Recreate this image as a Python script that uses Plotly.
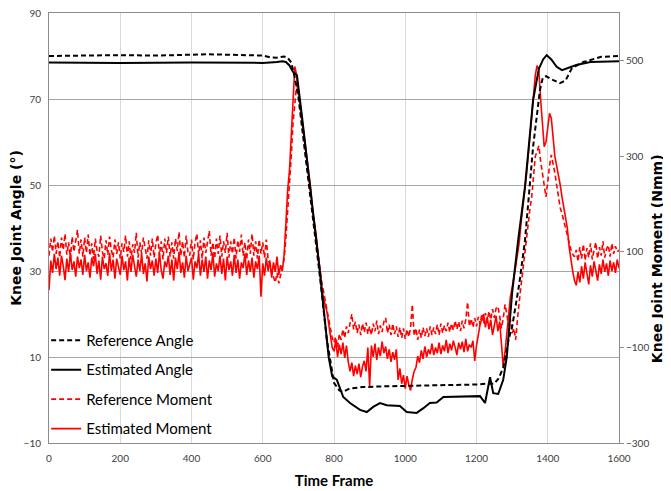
import plotly.graph_objects as go

# ---------------- data ----------------
frames = list(range(0, 1601, 5))

ref_angle_frames = [0, 100, 200, 300, 400, 450, 500, 600, 620, 640, 660, 670, 680, 690, 700, 720,
                    740, 760, 780, 800, 815, 825, 845, 880, 950, 1050, 1150, 1200, 1230, 1250,
                    1262, 1275, 1290, 1300, 1320, 1336, 1359, 1378, 1386, 1395, 1410, 1434, 1450,
                    1468, 1500, 1550, 1600]
ref_angle = [80.0, 80.1, 80.2, 80.1, 80.3, 80.4, 80.3, 80.1, 79.7, 79.6, 79.9, 79.6, 78.5, 75.0,
             70.5, 57.0, 43.0, 29.0, 14.0, 4.0, 2.2, 1.9, 2.7, 3.0, 3.2, 3.3, 3.4, 3.6, 3.8, 3.8,
             5.0, 7.5, 14.0, 17.0, 27.0, 37.0, 59.0, 72.0, 74.9, 75.3, 74.6, 73.7, 74.3,
             77.2, 78.6, 79.8, 80.0]

est_angle_frames = [0, 200, 400, 600, 640, 655, 665, 675, 685, 696, 710, 730, 750, 761, 770, 785,
                    795, 808, 826, 845, 873, 892, 910, 929, 948, 985, 1004, 1032, 1051, 1069,
                    1088, 1107, 1210, 1224, 1238, 1247, 1261, 1275, 1285, 1300, 1317, 1336, 1359,
                    1375, 1387, 1397, 1410, 1425, 1440, 1460, 1480, 1520, 1600]
est_angle = [78.5, 78.4, 78.5, 78.4, 78.6, 78.8, 78.6, 77.8, 76.3, 75.5, 66.0, 52.0, 37.5, 29.5,
             22.0, 10.0, 5.5, 4.7, 0.7, -0.7, -2.3, -2.8, -1.6, -0.7, -1.2, -1.4, -2.8, -3.0,
             -1.9, -0.7, -0.6, 0.7, 0.9, -0.7, 5.3, 1.6, 1.4, 4.7, 10.0, 24.9, 37.2, 49.5, 69.8,
             77.0, 79.2, 80.2, 79.2, 77.5, 76.7, 77.3, 77.9, 78.6, 78.8]

ref_moment = [
    92, 128, 100, 134, 96, 122, 88, 130, 104, 138, 94, 120, 86, 132, 100, 124, 146, 96, 126, 90,
    130, 98, 136, 92, 118, 84, 128, 102, 90, 134, 100, 86, 124, 94, 132, 104, 88, 126, 96, 120,
    86, 118, 100, 134, 90, 122, 84, 116, 98, 140, 88, 120, 96, 130, 104, 86, 124, 92, 128, 88,
    118, 136, 92, 122, 84, 128, 98, 132, 90, 120, 86, 128, 102, 142, 92, 122, 88, 134, 100, 92,
    126, 84, 120, 138, 94, 124, 86, 130, 98, 122, 144, 92, 120, 86, 128, 96, 134, 90, 122, 98,
    140, 88, 122, 96, 130, 86, 124, 100, 136, 92, 120, 84, 126, 96, 138, 92, 122, 86, 126, 96,
    120, 88, 126, 84, 74, 56, 48, 36, 56, 34, 50, 62, 85, 130, 180, 240, 300, 370, 420, 450,
    430, 400, 370, 340, 310, 280, 250, 220, 190, 160, 130, 100, 65, 40, 20, 0, -20, -45, -65, -80,
    -90, -78, -100, -72, -84, -62, -80, -56, -70, -48, -30, -62, -46, -70, -52, -74, -50, -68, -48, -72,
    -56, -74, -50, -66, -44, -72, -54, -68, -46, -38, -70, -52, -74, -50, -72, -56, -78, -58, -80, -60,
    -82, -62, -78, -58, -10, -76, -60, -84, -62, -80, -58, -76, -60, -78, -56, -74, -58, -72, -52, -74,
    -50, -70, -54, -66, -48, -68, -50, -64, -44, -62, -46, -66, -44, -60, -42, -5, -56, -40, -58, -38,
    -56, -36, -52, -30, -50, -28, -46, -24, -42, -20, -38, -18, -14, -34, -60, -40, -10, -30, -55, -40,
    -70, -60, -84, -40, 0, 30, 60, 95, 125, 160, 190, 215, 260, 300, 310, 322, 290, 260, 240, 215,
    250, 280, 303, 285, 265, 240, 215, 192, 180, 165, 150, 135, 115, 105, 95, 90, 104, 80, 110, 86,
    116, 82, 108, 88, 118, 84, 104, 120, 86, 110, 92, 122, 88, 106, 114, 90, 118, 96, 112, 100,
    104]

est_moment = [
    20, 82, 56, 96, 64, 88, 50, 92, 70, 41, 86, 58, 98, 62, 80, 48, 90, 66, 84, 52,
    94, 60, 78, 46, 88, 70, 96, 54, 82, 42, 90, 64, 76, 50, 98, 60, 84, 44, 86, 68,
    52, 92, 62, 80, 40, 88, 58, 94, 66, 48, 84, 60, 96, 54, 76, 38, 90, 64, 82, 50,
    86, 56, 98, 62, 44, 80, 68, 92, 52, 84, 40, 88, 64, 100, 56, 78, 46, 92, 60, 74,
    88, 42, 80, 66, 96, 50, 84, 58, 90, 44, 82, 62, 98, 48, 76, 60, 92, 54, 86, 40,
    90, 62, 80, 50, 94, 56, 84, 44, 78, 66, 96, 52, 82, 58, 88, 46, 80, 64, 92, 6,
    76, 50, 88, 60, 82, 46, 78, 58, 90, 52, 72, 60, 95, 160, 230, 270, 340, 420, 488, 470,
    440, 420, 380, 355, 330, 300, 270, 230, 185, 160, 135, 95, 55, 25, 5, -10, -25, -50, -75, -100,
    -108, -86, -120, -94, -114, -90, -122, -96, -130, -150, -132, -160, -138, -156, -134, -162, -140, -128, -150, -100,
    -182, -96, -120, -92, -126, -100, -118, -88, -112, -98, -124, -104, -130, -110, -126, -104, -168, -144, -176, -158,
    -186, -160, -178, -190, -166, -150, -142, -118, -132, -106, -124, -98, -120, -104, -114, -92, -116, -100, -112, -90,
    -114, -96, -108, -84, -112, -92, -106, -86, -100, -116, -90, -104, -88, -110, -82, -108, -94, -100, -86, -128,
    -96, -74, -52, -40, -30, -58, -36, -62, -42, -74, -50, -34, -66, -46, -92, -140, -110, -70, -30, 5,
    25, 45, 70, 95, 120, 160, 190, 225, 260, 300, 345, 395, 440, 470, 490, 480, 420, 360, 320, 330,
    360, 390, 380, 340, 300, 280, 262, 240, 215, 195, 175, 150, 110, 80, 60, 40, 30, 58, 36, 70,
    44, 78, 52, 32, 72, 48, 80, 56, 40, 74, 54, 84, 58, 76, 50, 82, 60, 78, 56, 84,
    66]

angle_ticks = [-10, 10, 30, 50, 70, 90]
moment_ticks = [-300, -100, 100, 300, 500]
time_ticks = [0, 200, 400, 600, 800, 1000, 1200, 1400, 1600]

# ---------------- figure ----------------
SANS = "Lato, Liberation Sans, sans-serif"
BOLDT = "DejaVu Sans, Verdana, sans-serif"

fig = go.Figure()

fig.add_trace(go.Scatter(x=frames, y=ref_moment, yaxis="y", mode="lines",
                         name="Reference Moment", legendrank=3, legendgroup="c",
                         line=dict(color="#ff0000", width=1.6, dash="5px,3px")))
fig.add_trace(go.Scatter(x=frames, y=est_moment, yaxis="y", mode="lines",
                         name="Estimated Moment", legendrank=4, legendgroup="d",
                         line=dict(color="#ff0000", width=1.6)))
fig.add_trace(go.Scatter(x=ref_angle_frames, y=ref_angle, yaxis="y2", mode="lines",
                         name="Reference Angle", legendrank=1, legendgroup="a",
                         line=dict(color="#000000", width=2, dash="5px,3px")))
fig.add_trace(go.Scatter(x=est_angle_frames, y=est_angle, yaxis="y2", mode="lines",
                         name="Estimated Angle", legendrank=2, legendgroup="b",
                         line=dict(color="#000000", width=2)))

# the page body adds an 8px offset, so the figure is sized to fit the window
fig.update_layout(
    width=663, height=483,
    margin=dict(l=41, r=52, t=5, b=48, autoexpand=False),
    paper_bgcolor="white", plot_bgcolor="white",
    font=dict(family=SANS, size=10, color="#404040"),
    showlegend=True,
    legend=dict(x=-0.005, y=0.277, xanchor="left", yanchor="top",
                bgcolor="rgba(0,0,0,0)", borderwidth=0,
                font=dict(family=SANS, size=15, color="#000000"),
                tracegroupgap=7, itemwidth=30, traceorder="grouped"),
    xaxis=dict(range=[0, 1600], tickvals=time_ticks, showgrid=True, gridcolor="#d9d9d9",
               gridwidth=1, showline=True, linecolor="#8c8c8c", linewidth=1, mirror=True,
               zeroline=False, ticks="", automargin=False, ticklabelstandoff=6,
               ticklabeloverflow="allow",
               tickfont=dict(family=SANS, size=10, color="#404040"),
               title=dict(text="<b>Time Frame</b>", standoff=12,
                          font=dict(family=SANS, size=15, color="#000000"))),
    yaxis=dict(range=[-300, 600], tickvals=moment_ticks, side="right", showgrid=False,
               zeroline=False, showline=True, linecolor="#8c8c8c", linewidth=1,
               ticks="outside", ticklen=4, tickcolor="#8c8c8c", automargin=False,
               ticklabeloverflow="allow",
               tickfont=dict(family=SANS, size=10, color="#404040")),
    yaxis2=dict(range=[-10, 90], tickvals=angle_ticks, side="left", overlaying="y",
                anchor="x", showgrid=True, gridcolor="#a6a6a6", gridwidth=1,
                zeroline=False, showline=True, linecolor="#8c8c8c", linewidth=1,
                ticks="", ticklabelstandoff=5, automargin=False,
                ticklabeloverflow="allow",
                tickfont=dict(family=SANS, size=10, color="#404040"),
                title=dict(text="<b>Knee Joint Angle (°)</b>", standoff=1,
                           font=dict(family=BOLDT, size=14, color="#000000"))),
    annotations=[dict(text="<b>Knee Joint Moment (Nmm)</b>", textangle=-90,
                      xref="paper", yref="paper", x=1.067, y=0.428,
                      xanchor="center", yanchor="middle", showarrow=False,
                      font=dict(family=BOLDT, size=14, color="#000000"))],
)

fig.write_html("out.html")
